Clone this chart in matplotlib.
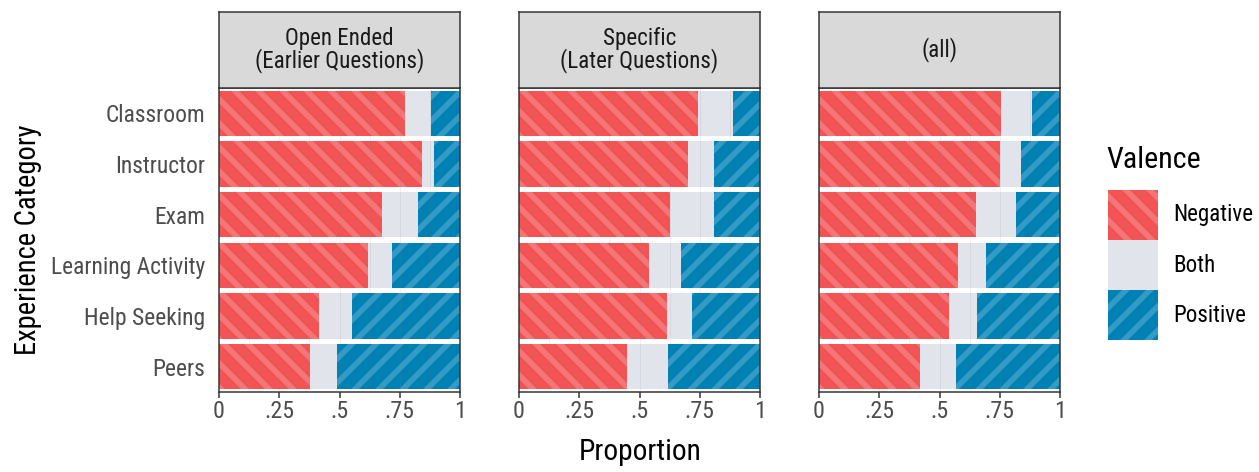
import matplotlib
matplotlib.use("Agg")
import matplotlib.pyplot as plt

# data: proportions per category, one list per panel
categories = ["Classroom", "Instructor", "Exam", "Learning Activity", "Help Seeking", "Peers"]
panels = ["Open Ended\n(Earlier Questions)", "Specific\n(Later Questions)", "(all)"]

negative = {
    "open":     [0.773, 0.842, 0.678, 0.617, 0.413, 0.376],
    "specific": [0.744, 0.701, 0.627, 0.541, 0.613, 0.447],
    "all":      [0.755, 0.750, 0.653, 0.576, 0.538, 0.418],
}
both = {
    "open":     [0.107, 0.051, 0.148, 0.099, 0.137, 0.114],
    "specific": [0.143, 0.107, 0.183, 0.131, 0.104, 0.171],
    "all":      [0.129, 0.089, 0.164, 0.116, 0.116, 0.149],
}
positive = {k: [1 - n - b for n, b in zip(negative[k], both[k])] for k in negative}
panel_keys = ["open", "specific", "all"]

tick_vals = [0, 0.25, 0.5, 0.75, 1]
tick_labels = ["0", ".25", ".5", ".75", "1"]
valence = ["Negative", "Both", "Positive"]

NEG, NEG_L = "#F25355", "#F57676"
POS, POS_L = "#0081B4", "#349BC6"
BOTH = "#E2E4EC"

W, H = 1259, 472
DPI = 72
plt.rcParams["font.family"] = ["Roboto Condensed", "Liberation Sans Narrow", "Roboto", "DejaVu Sans"]
plt.rcParams["hatch.linewidth"] = 5.5

fig = plt.figure(figsize=(W / DPI, H / DPI), dpi=DPI)

lefts = [219, 519, 819]
pw = 241
top, bottom = 88, 392
strip_top = 12

ypos = list(range(len(categories)))[::-1]

for i, (left, key, title) in enumerate(zip(lefts, panel_keys, panels)):
    ax = fig.add_axes([left / W, 1 - bottom / H, pw / W, (bottom - top) / H])
    neg = negative[key]
    bo = both[key]
    pos = positive[key]
    ax.barh(ypos, neg, height=0.9, color=NEG, edgecolor=NEG_L, lw=0, hatch="\\")
    ax.barh(ypos, bo, left=neg, height=0.9, color=BOTH, lw=0)
    ax.barh(ypos, pos, left=[n + b for n, b in zip(neg, bo)], height=0.9,
            color=POS, edgecolor=POS_L, lw=0, hatch="/")
    for g in [0.125 * k for k in range(1, 8)]:
        ax.axvline(g, color="#888888", alpha=0.12, lw=1, zorder=5)
    ax.set_xlim(0, 1)
    ax.set_ylim(-0.5, len(categories) - 0.5)
    ax.set_xticks(tick_vals)
    ax.set_xticklabels(tick_labels)
    ax.tick_params(axis="x", length=6, width=1.5, color="#333333", labelsize=24,
                   labelcolor="#4D4D4D", pad=2)
    for s in ax.spines.values():
        s.set_color("#333333")
        s.set_linewidth(1.5)
    if i == 0:
        ax.set_yticks(ypos)
        ax.set_yticklabels(categories)
        ax.tick_params(axis="y", length=0, labelsize=23.5, labelcolor="#4D4D4D", pad=14)
    else:
        ax.set_yticks([])

    # strip header
    sax = fig.add_axes([left / W, 1 - top / H, pw / W, (top - strip_top) / H])
    sax.set_facecolor("#D9D9D9")
    sax.set_xticks([])
    sax.set_yticks([])
    for s in sax.spines.values():
        s.set_color("#333333")
        s.set_linewidth(1.5)
    sax.text(0.5, 0.5, title, ha="center", va="center", fontsize=23,
             linespacing=0.95, color="#1A1A1A")

fig.text(640 / W, 1 - 452 / H, "Proportion", ha="center", va="center", fontsize=29.5)
fig.text(28 / W, 1 - 240 / H, "Experience Category", ha="center", va="center",
         rotation=90, fontsize=28.5)

# legend drawn by hand: three stacked keys
lax = fig.add_axes([1108 / W, 1 - 340 / H, 50 / W, 150 / H])
lax.barh([2], [1], height=1, color=NEG, edgecolor=NEG_L, lw=0, hatch="\\")
lax.barh([1], [1], height=1, color=BOTH, lw=0)
lax.barh([0], [1], height=1, color=POS, edgecolor=POS_L, lw=0, hatch="/")
lax.set_xlim(0, 1)
lax.set_ylim(-0.5, 2.5)
lax.axis("off")
for j, lab in enumerate(valence):
    fig.text(1173 / W, 1 - (215 + 50 * j) / H, lab, ha="left", va="center", fontsize=23)
fig.text(1106 / W, 1 - 160 / H, "Valence", ha="left", va="center", fontsize=30)

fig.savefig("out.png", dpi=DPI, facecolor="white")
